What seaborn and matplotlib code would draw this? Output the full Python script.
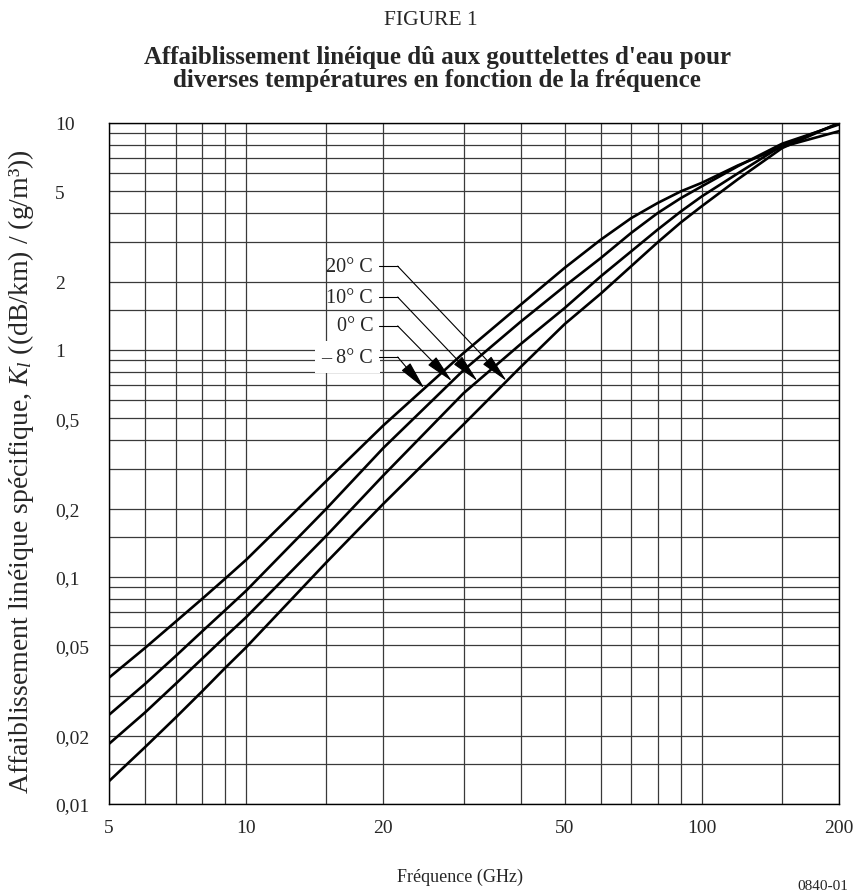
import numpy as np
import pandas as pd
import seaborn as sns
import matplotlib.pyplot as plt
from matplotlib.ticker import NullFormatter

# frequencies (GHz)
freq = [5, 6, 7, 8, 9, 10, 15, 20, 30, 40, 50, 60, 70, 80, 90, 100, 120, 150, 200]

# specific attenuation Kl ((dB/km)/(g/m3)) per temperature
k_m8 = [0.036, 0.0487, 0.0635, 0.080, 0.0985, 0.119, 0.265, 0.465, 0.97, 1.58,
        2.30, 3.06, 3.81, 4.44, 5.0, 5.45, 6.5, 7.85, 9.2]
k_0 = [0.0247, 0.0338, 0.0448, 0.0575, 0.0715, 0.087, 0.20, 0.37, 0.815, 1.33,
       1.91, 2.54, 3.28, 4.01, 4.67, 5.26, 6.45, 8.1, 9.85]
k_10 = [0.0184, 0.0253, 0.0338, 0.0436, 0.0546, 0.0665, 0.152, 0.28, 0.645, 1.06,
        1.53, 2.11, 2.72, 3.39, 4.08, 4.75, 6.0, 7.95, 9.95]
k_20 = [0.0126, 0.0178, 0.0240, 0.0313, 0.0398, 0.049, 0.116, 0.21, 0.47, 0.84,
        1.30, 1.77, 2.34, 2.98, 3.65, 4.30, 5.65, 7.75, 10.0]

temps = ['\u2013 8° C', '0° C', '10° C', '20° C']
series = [k_m8, k_0, k_10, k_20]

# annotation labels: label height on the K axis, frequency of the arrow tip
label_k = [0.931, 1.276, 1.71, 2.34]
tip_f = [24.6, 28.3, 32.2, 37.3]

x_ticks = [5, 10, 20, 50, 100, 200]
x_labels = ['5', '10', '20', '50', '100', '200']
y_ticks = [0.01, 0.02, 0.05, 0.1, 0.2, 0.5, 1, 2, 5, 10]
y_labels = ['0,01', '0,02', '0,05', '0,1', '0,2', '0,5', '1', '2', '5', '10']
x_grid = [5, 6, 7, 8, 9, 10, 15, 20, 30, 40, 50, 60, 70, 80, 90, 100, 150, 200]
y_grid = [m * 10.0 ** e for e in (-2, -1, 0) for m in (1, 1.5, 2, 3, 4, 5, 6, 7, 8, 9)] + [10]

df = pd.DataFrame({
    'freq': freq * 4,
    'K': k_m8 + k_0 + k_10 + k_20,
    'T': [t for t in temps for _ in freq],
})

sns.set_style('white')
plt.rcParams['font.family'] = ['Liberation Serif', 'DejaVu Serif']
plt.rcParams['mathtext.fontset'] = 'custom'
plt.rcParams['mathtext.rm'] = 'Liberation Serif'
plt.rcParams['mathtext.it'] = 'Liberation Serif:italic'

fig = plt.figure(figsize=(8.57, 8.95), dpi=100)
ax = fig.add_axes([0.1272, 0.1006, 0.8518, 0.7609])

sns.lineplot(data=df, x='freq', y='K', hue='T', palette=['black'] * 4,
             legend=False, linewidth=1.9, sort=False, ax=ax, zorder=3)

ax.set_xscale('log')
ax.set_yscale('log')
ax.set_xlim(5, 200)
ax.set_ylim(0.01, 10)
ax.set_xticks(x_ticks, x_labels)
ax.set_yticks(y_ticks, y_labels)
ax.set_xticks(x_grid, minor=True)
ax.set_yticks(y_grid, minor=True)
ax.xaxis.set_minor_formatter(NullFormatter())
ax.yaxis.set_minor_formatter(NullFormatter())
ax.grid(which='both', color='#3a3a3a', linewidth=0.9)
ax.tick_params(which='both', length=0, labelsize=14)
ax.tick_params(axis='y', pad=39)
ax.tick_params(axis='x', pad=11)
for lbl in ax.get_yticklabels():
    lbl.set_horizontalalignment('left')
for s in ax.spines.values():
    s.set_color('black')
    s.set_linewidth(1.0)

ax.set_xlabel('Fréquence (GHz)', fontsize=13)
ax.xaxis.set_label_coords(0.481, -0.094)
ax.set_ylabel('Affaiblissement linéique spécifique, $K_l$ ((dB/km) / (g/m³))', fontsize=20)
ax.yaxis.set_label_coords(-0.1, 0.49)

# temperature labels with leader lines and arrows
for name, k, ky, tf in zip(temps, series, label_k, tip_f):
    tk = 10 ** np.interp(np.log10(tf), np.log10(freq), np.log10(k))
    box = dict(facecolor='white', edgecolor='none', pad=5) if name.startswith('\u2013') else None
    ax.text(19.0, ky, name, ha='right', va='center', fontsize=14.5, bbox=box, zorder=4)
    ax.plot([19.6, 21.5], [ky, ky], color='black', linewidth=0.8, zorder=4)
    ax.annotate('', xy=(tf, tk), xytext=(21.5, ky),
                arrowprops=dict(arrowstyle='-|>,head_length=0.9,head_width=0.18',
                                color='black', lw=0.8, shrinkA=0, shrinkB=0,
                                mutation_scale=20), zorder=4)

fig.text(0.503, 0.977, 'FIGURE 1', ha='center', va='center', fontsize=15.5)
fig.text(0.51, 0.923, "Affaiblissement linéique dû aux gouttelettes d'eau pour\n"
         "diverses températures en fonction de la fréquence",
         ha='center', va='center', fontsize=18, fontweight='bold', linespacing=1.02)
fig.text(0.96, 0.002, '0840-01', ha='center', va='bottom', fontsize=11)

fig.savefig('out.png', dpi=100)
